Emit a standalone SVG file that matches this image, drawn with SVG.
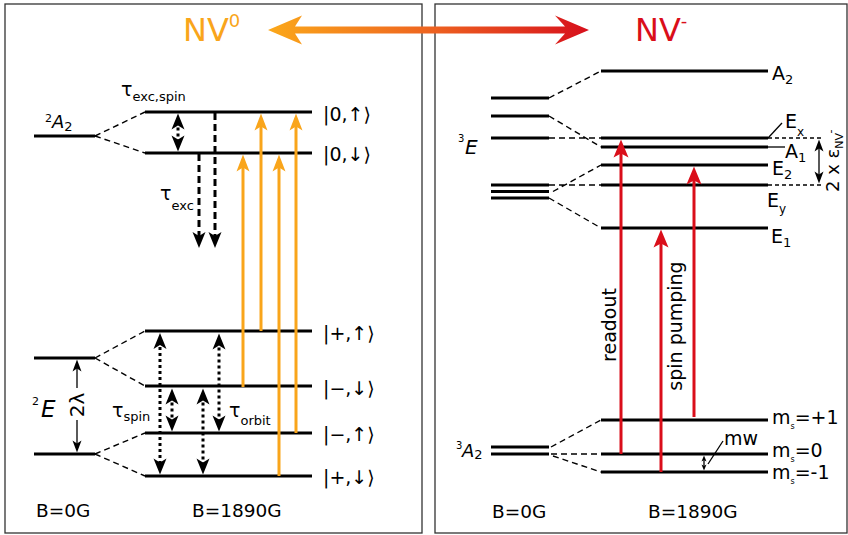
<svg xmlns="http://www.w3.org/2000/svg" width="848" height="535" viewBox="0 0 848 535">
<style>
text{font-family:"DejaVu Sans","Liberation Sans",sans-serif;fill:#000}
.lv{stroke:#000;stroke-width:3;fill:none}
.dc{stroke:#000;stroke-width:1.4;fill:none;stroke-dasharray:6 4}
.dt{stroke:#000;stroke-width:3;fill:none;stroke-dasharray:3 3}
.ds{stroke:#000;stroke-width:3;fill:none;stroke-dasharray:7 4}
.or{stroke:#F9A51B;stroke-width:3;fill:none}
.rd{stroke:#DA0E1A;stroke-width:3;fill:none}
.thin{stroke:#000;stroke-width:1.3;fill:none}
.frame{fill:#fff;stroke:#333;stroke-width:1.3}
.it{font-style:italic}
.ket{font-size:19px}
</style>
<defs>
<linearGradient id="gr" gradientUnits="userSpaceOnUse" x1="268" y1="0" x2="589" y2="0">
<stop offset="0" stop-color="#FBA81A"/>
<stop offset="0.5" stop-color="#EE6420"/>
<stop offset="1" stop-color="#D7101C"/>
</linearGradient>
<marker id="hb" markerUnits="userSpaceOnUse" orient="auto-start-reverse" overflow="visible" refX="0" refY="0" markerWidth="20" markerHeight="20"><path d="M8,0 L-8,-6.5 L-4,0 L-8,6.5 Z" fill="#000"/></marker>
<marker id="ho" markerUnits="userSpaceOnUse" orient="auto" overflow="visible" refX="0" refY="0" markerWidth="20" markerHeight="20"><path d="M8,0 L-9,-6.5 L-5,0 L-9,6.5 Z" fill="#F9A51B"/></marker>
<marker id="hr" markerUnits="userSpaceOnUse" orient="auto" overflow="visible" refX="0" refY="0" markerWidth="20" markerHeight="20"><path d="M8,0 L-10,-7.5 L-6,0 L-10,7.5 Z" fill="#DA0E1A"/></marker>
<marker id="hs" markerUnits="userSpaceOnUse" orient="auto-start-reverse" overflow="visible" refX="0" refY="0" markerWidth="20" markerHeight="20"><path d="M6,0 L-6,-4.5 L-3,0 L-6,4.5 Z" fill="#000"/></marker>
<marker id="ht" markerUnits="userSpaceOnUse" orient="auto-start-reverse" overflow="visible" refX="0" refY="0" markerWidth="10" markerHeight="10"><path d="M3,0 L-3,-2.5 L-1.5,0 L-3,2.5 Z" fill="#000"/></marker>
</defs>

<g id="panels">
<rect class="frame" x="5" y="4" width="417" height="529"/>
<rect class="frame" x="435" y="4" width="412" height="529"/>
</g>

<g id="transfer-arrow">
<polygon fill="url(#gr)" points="268,30 302,15.5 295,26.5 565,26.5 555,15.5 589,30 555,44.5 565,33.5 295,33.5 302,44.5"/>
</g>

<g id="titles">
<text x="183" y="41" font-size="32" style="fill:#F9A51B">NV<tspan font-size="18" dy="-14">0</tspan></text>
<text x="635" y="41" font-size="32" style="fill:#DA0E1A">NV<tspan font-size="18" dy="-14">-</tspan></text>
</g>

<!-- Left panel nodes -->
<g id="nv0-2A2-B0">
<line class="lv" x1="34" y1="136" x2="95" y2="136"/>
<text x="45" y="122" font-size="11">2</text>
<text x="52" y="128" font-size="18" class="it">A<tspan font-size="13" dy="3" font-style="normal">2</tspan></text>
</g>
<g id="nv0-0up">
<line class="lv" x1="145" y1="112" x2="312" y2="112"/>
<text x="323" y="121" class="ket">|0,↑⟩</text>
</g>
<g id="nv0-0down">
<line class="lv" x1="145" y1="153" x2="312" y2="153"/>
<text x="323" y="161" class="ket">|0,↓⟩</text>
</g>
<g id="nv0-2E-B0">
<line class="lv" x1="34" y1="358" x2="95" y2="358"/>
<line class="lv" x1="34" y1="454" x2="95" y2="454"/>
<text x="32" y="405" font-size="11">2</text>
<text x="41" y="417" font-size="23" class="it">E</text>
</g>
<g id="nv0-plus-up">
<line class="lv" x1="145" y1="331" x2="312" y2="331"/>
<text x="323" y="340" class="ket">|+,↑⟩</text>
</g>
<g id="nv0-minus-down">
<line class="lv" x1="145" y1="386" x2="312" y2="386"/>
<text x="323" y="395" class="ket">|−,↓⟩</text>
</g>
<g id="nv0-minus-up">
<line class="lv" x1="145" y1="433" x2="312" y2="433"/>
<text x="323" y="441" class="ket">|−,↑⟩</text>
</g>
<g id="nv0-plus-down">
<line class="lv" x1="145" y1="476" x2="312" y2="476"/>
<text x="323" y="484" class="ket">|+,↓⟩</text>
</g>
<g id="nv0-labels">
<text x="121" y="96" font-size="19">τ<tspan font-size="13" dy="5">exc,spin</tspan></text>
<text x="160" y="200" font-size="19">τ<tspan font-size="13" dy="10">exc</tspan></text>
<text x="112" y="417" font-size="19">τ<tspan font-size="13" dy="4">spin</tspan></text>
<text x="229" y="417" font-size="19">τ<tspan font-size="13" dy="8">orbit</tspan></text>
<text transform="translate(84,405) rotate(-90)" font-size="20" text-anchor="middle">2λ</text>
<text x="36" y="517" font-size="18.5">B=0G</text>
<text x="192" y="517" font-size="18.5">B=1890G</text>
</g>

<!-- Right panel nodes -->
<g id="nvm-3E-B0">
<line class="lv" x1="491" y1="98" x2="549" y2="98"/>
<line class="lv" x1="491" y1="116" x2="549" y2="116"/>
<line class="lv" x1="491" y1="138" x2="549" y2="138"/>
<line class="lv" x1="491" y1="185" x2="549" y2="185"/>
<line class="lv" x1="491" y1="191.5" x2="549" y2="191.5"/>
<line class="lv" x1="491" y1="198" x2="549" y2="198"/>
<text x="458" y="142" font-size="10">3</text>
<text x="465" y="154" font-size="20" class="it">E</text>
</g>
<g id="nvm-A2">
<line class="lv" x1="601" y1="71" x2="768" y2="71"/>
<text x="772" y="80" font-size="19">A<tspan font-size="13" dy="4">2</tspan></text>
</g>
<g id="nvm-Ex">
<line class="lv" x1="601" y1="138" x2="768" y2="138"/>
<line class="thin" x1="768" y1="138" x2="782" y2="123"/>
<text x="785" y="128" font-size="19">E<tspan font-size="12" dy="8">x</tspan></text>
</g>
<g id="nvm-A1">
<line class="lv" x1="601" y1="147" x2="768" y2="147"/>
<line class="thin" x1="768" y1="147" x2="785" y2="147"/>
<text x="785" y="158" font-size="19">A<tspan font-size="13" dy="4">1</tspan></text>
</g>
<g id="nvm-E2">
<line class="lv" x1="601" y1="165" x2="768" y2="165"/>
<text x="772" y="175" font-size="19">E<tspan font-size="13" dy="4">2</tspan></text>
</g>
<g id="nvm-Ey">
<line class="lv" x1="601" y1="185" x2="768" y2="185"/>
<text x="767" y="207" font-size="19">E<tspan font-size="12" dy="6">y</tspan></text>
</g>
<g id="nvm-E1">
<line class="lv" x1="601" y1="228" x2="768" y2="228"/>
<text x="771" y="243" font-size="19">E<tspan font-size="13" dy="4">1</tspan></text>
</g>
<g id="nvm-splitting">
<line class="thin" x1="768" y1="138" x2="822" y2="138" stroke-dasharray="4 3"/>
<line class="thin" x1="768" y1="185" x2="822" y2="185" stroke-dasharray="4 3"/>
<text transform="translate(839,192) rotate(-90)" font-size="18">2 x ε<tspan font-size="11" dy="4">NV</tspan><tspan font-size="11" dy="-9">-</tspan></text>
</g>
<g id="nvm-3A2-B0">
<line class="lv" x1="491" y1="447" x2="549" y2="447"/>
<line class="lv" x1="491" y1="454" x2="549" y2="454"/>
<text x="456" y="449" font-size="10">3</text>
<text x="462" y="457" font-size="18" class="it">A<tspan font-size="13" dy="2" font-style="normal">2</tspan></text>
</g>
<g id="nvm-ms-plus1">
<line class="lv" x1="601" y1="420" x2="768" y2="420"/>
<text x="772" y="424" font-size="19">m<tspan font-size="8" dy="5">s</tspan><tspan dy="-5">=+1</tspan></text>
</g>
<g id="nvm-ms-0">
<line class="lv" x1="601" y1="454" x2="768" y2="454"/>
<text x="772" y="457" font-size="19">m<tspan font-size="8" dy="5">s</tspan><tspan dy="-5">=0</tspan></text>
</g>
<g id="nvm-ms-minus1">
<line class="lv" x1="601" y1="472" x2="768" y2="472"/>
<text x="772" y="479" font-size="19">m<tspan font-size="8" dy="5">s</tspan><tspan dy="-5">=-1</tspan></text>
</g>
<g id="nvm-labels">
<text transform="translate(616,325) rotate(-90)" font-size="19" text-anchor="middle">readout</text>
<text transform="translate(682,326) rotate(-90)" font-size="19" text-anchor="middle">spin pumping</text>
<text x="724" y="445" font-size="19">mw</text>
<line class="thin" x1="708" y1="464" x2="723" y2="441"/>
<text x="492" y="518" font-size="18.5">B=0G</text>
<text x="648" y="518" font-size="18.5">B=1890G</text>
</g>

<g id="connectors">
<path class="dc" d="M95,136 L145,112 M95,136 L145,153 M95,358 L145,331 M95,358 L145,386 M95,454 L145,433 M95,454 L145,476"/>
<path class="dc" d="M549,98 L601,71 M549,116 L601,147 M549,138 L601,138 M553,191.5 L601,165 M549,185 L601,185 M549,198 L601,228 M551,447 L601,420 M551,454 L601,454 M553,456 L601,472"/>
<line class="dt" x1="178" y1="121.5" x2="178" y2="143.5" stroke-dasharray="0 9.5 3 20" marker-start="url(#hb)" marker-end="url(#hb)"/>
<line class="ds" x1="215" y1="113" x2="215" y2="240" marker-end="url(#hb)"/>
<line class="ds" x1="199" y1="154" x2="199" y2="240" marker-end="url(#hb)"/>
<line class="dt" x1="160" y1="341" x2="160" y2="466.5" marker-start="url(#hb)" marker-end="url(#hb)"/>
<line class="dt" x1="172" y1="396.5" x2="172" y2="423.5" marker-start="url(#hb)" marker-end="url(#hb)"/>
<line class="dt" x1="203" y1="396.5" x2="203" y2="466.5" marker-start="url(#hb)" marker-end="url(#hb)"/>
<line class="dt" x1="219" y1="341.5" x2="219" y2="423.5" marker-start="url(#hb)" marker-end="url(#hb)"/>
<line class="thin" stroke-width="2" x1="77" y1="388" x2="77" y2="365.5" marker-end="url(#hs)"/>
<line class="thin" stroke-width="2" x1="77" y1="420" x2="77" y2="446.5" marker-end="url(#hs)"/>
<line class="or" x1="243" y1="387" x2="243" y2="162.5" marker-end="url(#ho)"/>
<line class="or" x1="261" y1="331" x2="261" y2="121.5" marker-end="url(#ho)"/>
<line class="or" x1="279" y1="476" x2="279" y2="162.5" marker-end="url(#ho)"/>
<line class="or" x1="296" y1="433" x2="296" y2="121.5" marker-end="url(#ho)"/>
<line class="rd" x1="621" y1="454" x2="621" y2="147.5" marker-end="url(#hr)"/>
<line class="rd" x1="661" y1="472" x2="661" y2="237.5" marker-end="url(#hr)"/>
<line class="rd" x1="694" y1="417" x2="694" y2="174.5" marker-end="url(#hr)"/>
<line class="thin" stroke-width="2" x1="819" y1="145.5" x2="819" y2="177.5" marker-start="url(#hs)" marker-end="url(#hs)"/>
<line class="thin" x1="704" y1="458.5" x2="704" y2="467.5" marker-start="url(#ht)" marker-end="url(#ht)"/>
</g>
</svg>
